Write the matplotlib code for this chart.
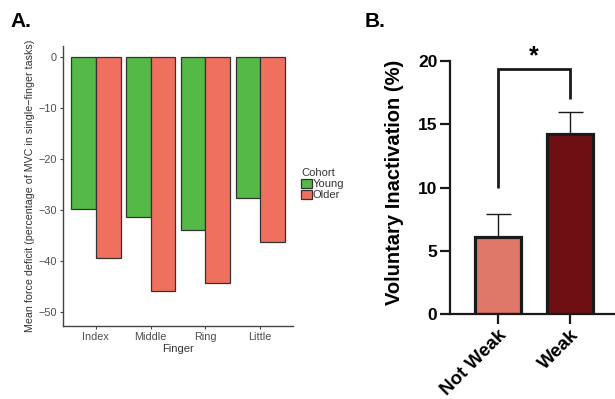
import matplotlib
matplotlib.use("Agg")
import matplotlib.pyplot as plt
import numpy as np

plt.rcParams['font.family'] = ['Liberation Sans', 'DejaVu Sans']

# Panel A data
fingers = ["Index", "Middle", "Ring", "Little"]
young = [-29.7, -31.4, -33.8, -27.7]
older = [-39.4, -45.8, -44.2, -36.3]
cohorts = ["Young", "Older"]

# Panel B data
groups = ["Not Weak", "Weak"]
vi_mean = [6.1, 14.2]
vi_err = [1.8, 1.8]

fig = plt.figure(figsize=(6.15, 3.99), dpi=100)

# ---------- Panel A ----------
axA = fig.add_axes([63/615, 1-326/399, 230/615, (326-45.7)/399])
x = np.arange(len(fingers))
w = 0.45
gcol = "#55B947"
rcol = "#F07060"
axA.bar(x - w/2, young, width=w, color=gcol, edgecolor="#333333", linewidth=0.9, label=cohorts[0])
axA.bar(x + w/2, older, width=w, color=rcol, edgecolor="#333333", linewidth=0.9, label=cohorts[1])
axA.set_xlim(-0.6, 3.6)
axA.set_ylim(-52.7, 2.2)
axA.set_yticks([0, -10, -20, -30, -40, -50])
axA.set_yticklabels(["0", "\u221210", "\u221220", "\u221230", "\u221240", "\u221250"])
axA.set_xticks(x)
axA.set_xticklabels(fingers)
for s in ["top", "right"]:
    axA.spines[s].set_visible(False)
for s in ["left", "bottom"]:
    axA.spines[s].set_color("#444444")
    axA.spines[s].set_linewidth(1.0)
axA.tick_params(colors="#444444", labelcolor="#4D4D4D", labelsize=7.8, length=2.5, width=0.8, pad=2)
axA.set_xlabel("Finger", fontsize=8, color="#333333", labelpad=1)
axA.set_ylabel("Mean force deficit (percentage of MVC in single\u2212finger tasks)", fontsize=7.7, color="#333333", labelpad=2)
leg = axA.legend(title="Cohort", loc="upper left", bbox_to_anchor=(301/615, 1-168/399),
                 bbox_transform=fig.transFigure, frameon=False, fontsize=8, title_fontsize=8,
                 handlelength=0.95, handleheight=0.95, handletextpad=0.1, labelspacing=0.05,
                 borderaxespad=0, borderpad=0, alignment="left")
for t in leg.get_texts():
    t.set_color("#333333")
leg.get_title().set_color("#333333")

fig.text(10/615, 1-27/399, "A.", fontsize=15, fontweight="bold", ha="left", va="baseline")

# ---------- Panel B ----------
axB = fig.add_axes([450/615, 1-314/399, 165/615, (314-61)/399])
xb = np.arange(len(groups))
bcols = ["#E0786A", "#6E0F14"]
axB.bar(xb, vi_mean, width=0.63, color=bcols, edgecolor="#1a1a1a", linewidth=2.3, zorder=2)
axB.errorbar(xb, vi_mean, yerr=[[0, 0], vi_err], fmt="none", ecolor="#1a1a1a",
             elinewidth=1.0, capsize=9, capthick=1.0, zorder=1)
axB.set_xlim(-0.667, 1.625)
axB.set_ylim(0, 20)
axB.set_yticks([0, 5, 10, 15, 20])
axB.set_xticks(xb)
axB.set_xticklabels(groups, rotation=45, ha="right", rotation_mode="anchor",
                    fontsize=13.5, fontweight="bold")
for lab in axB.get_yticklabels():
    lab.set_fontweight("bold")
    lab.set_fontsize(12.5)
for s in ["top", "right"]:
    axB.spines[s].set_visible(False)
for s in ["left", "bottom"]:
    axB.spines[s].set_color("#1a1a1a")
    axB.spines[s].set_linewidth(1.6)
axB.tick_params(axis="both", length=7, width=1.6, color="#1a1a1a", pad=2)
axB.set_ylabel("Voluntary Inactivation (%)", fontsize=14.5, fontweight="bold", labelpad=10)
axB.yaxis.label.set_y(0.52)

# significance bracket
axB.plot([0, 0, 1, 1], [10.0, 19.4, 19.4, 17.0], color="#1a1a1a", linewidth=2.0,
         clip_on=False, solid_capstyle="butt", solid_joinstyle="miter")
axB.text(0.5, 19.45, "*", ha="center", va="bottom", fontsize=18, fontweight="bold")

fig.text(365/615, 1-27/399, "B.", fontsize=15, fontweight="bold", ha="left", va="baseline")

fig.savefig("out.png", dpi=100)
